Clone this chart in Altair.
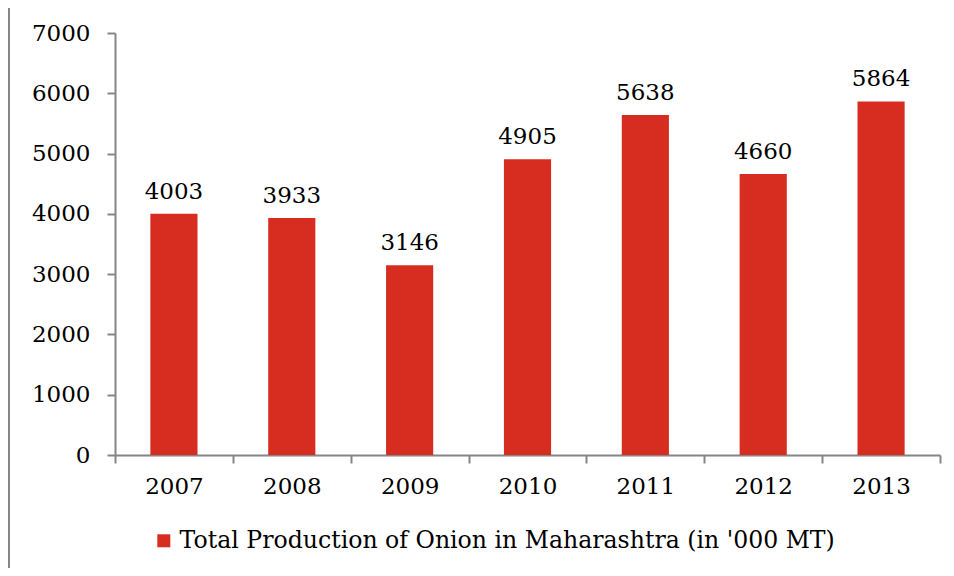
import altair as alt
import pandas as pd

years = ["2007", "2008", "2009", "2010", "2011", "2012", "2013"]
production = [4003, 3933, 3146, 4905, 5638, 4660, 5864]
series_name = "Total Production of Onion in Maharashtra (in '000 MT)"
y_ticks = [0, 1000, 2000, 3000, 4000, 5000, 6000, 7000]

df = pd.DataFrame({"Year": years, "Production": production, "Series": [series_name] * len(years)})

FONT = "DejaVu Serif"
RED = "#D62D20"
GRAY = "#868686"
FS = 23

x = alt.X("Year:N", sort=years, title=None,
          scale=alt.Scale(paddingInner=0, paddingOuter=0),
          axis=alt.Axis(labelAngle=0, tickBand="extent", tickSize=8, labelPadding=12,
                        labelFontSize=FS, labelFont=FONT, labelColor="#000000",
                        domainColor=GRAY, tickColor=GRAY, domainWidth=2, tickWidth=2))
y = alt.Y("Production:Q", title=None,
          scale=alt.Scale(domain=[0, 7000]),
          axis=alt.Axis(values=y_ticks, format="d", grid=False, tickSize=8, labelPadding=17,
                        labelFontSize=FS, labelFont=FONT, labelColor="#000000",
                        domainColor=GRAY, tickColor=GRAY, domainWidth=2, tickWidth=2))

bars = alt.Chart(df).mark_bar(color=RED, width=alt.RelativeBandSize(0.4)).encode(
    x=x, y=y,
    color=alt.Color("Series:N", title=None,
                    scale=alt.Scale(domain=[series_name], range=[RED]),
                    legend=alt.Legend(orient="none", legendX=37, legendY=70 + 422 + 4,
                                      symbolType="square", symbolSize=169,
                                      symbolStrokeWidth=0, labelFont=FONT,
                                      labelFontSize=FS + 0.6, labelColor="#000000",
                                      labelLimit=0, labelOffset=4)),
)

labels = alt.Chart(df).mark_text(font=FONT, fontSize=FS, dy=-15, baseline="alphabetic",
                                 color="#000000").encode(
    x=alt.X("Year:N", sort=years),
    y="Production:Q",
    text="Production:Q",
)

left_line = alt.Chart(df).mark_rule(color=GRAY, strokeWidth=2).encode(
    x=alt.value(-106), y=alt.value(-30), y2=alt.value(560)
)

chart = alt.layer(bars, labels, left_line).properties(
    width=825, height=422,
    autosize=alt.AutoSizeParams(type="none"),
    padding={"left": 107, "top": 25, "right": 6, "bottom": 113},
).configure_view(stroke=None)

chart.save("out.html", embed_options={"renderer": "svg", "actions": False})
